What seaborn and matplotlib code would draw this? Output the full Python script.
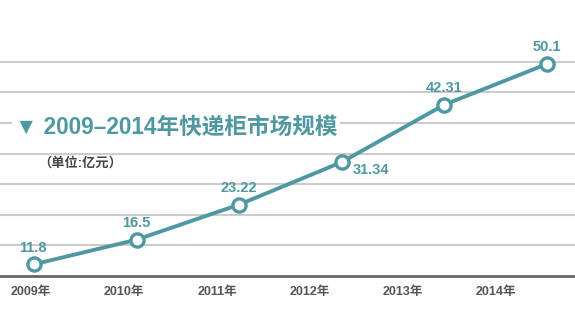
import numpy as np
import pandas as pd
import matplotlib
matplotlib.use("Agg")
import matplotlib.pyplot as plt
import seaborn as sns

years = ["2009年", "2010年", "2011年", "2012年", "2013年", "2014年"]
values = [11.8, 16.5, 23.22, 31.34, 42.31, 50.1]
value_labels = ["11.8", "16.5", "23.22", "31.34", "42.31", "50.1"]
title = "▼ 2009–2014年快递柜市场规模"
subtitle = "（单位:亿元）"

sns.set_theme(style="white")
plt.rcParams['font.family'] = ['Liberation Sans', 'Noto Sans CJK SC', 'DejaVu Sans']

teal = "#4f98a2"
grid_c = "#cccccc"
dark = "#555555"

df = pd.DataFrame({"pos": np.arange(len(years)), "value": values})

fig = plt.figure(figsize=(5.75, 3.28), dpi=100)
ax = fig.add_axes([0, 0.1585, 1, 0.8415])

ax.set_xlim(-0.331, 5.273)
ax.set_ylim(9.56, 62.33)

yt = 9.56 + 5.85 * np.arange(1, 8)
ax.set_yticks(yt)
ax.set_yticklabels([])
ax.tick_params(axis='y', length=0)
for v in yt:
    ax.axhline(v, color=grid_c, lw=1.5, zorder=0)

sns.lineplot(data=df, x="pos", y="value", ax=ax, color=teal, lw=2.8,
             marker="o", markersize=9.5, markerfacecolor="white",
             markeredgecolor=teal, markeredgewidth=2.4, zorder=5)

# value labels
offsets = [(-1, 12), (0, 12), (0, 12), (21, -6), (0, 12), (0, 12)]
for i, (v, lab) in enumerate(zip(values, value_labels)):
    dx, dy = offsets[i]
    ax.annotate(lab, (i, v), xytext=(dx, dy), textcoords="offset points",
                ha="center", va="center", fontsize=10.5, fontweight="bold",
                color=teal, zorder=6)

# x tick labels
ax.set_xticks(np.arange(len(years)) * 0.907 - 0.03)
ax.set_xticklabels(years, fontsize=9, fontweight="bold", color=dark)
ax.tick_params(axis='x', length=0, pad=7)
ax.set_xlabel("")
ax.set_ylabel("")

for s in ["top", "right", "left"]:
    ax.spines[s].set_visible(False)
ax.spines["bottom"].set_color("#666666")
ax.spines["bottom"].set_linewidth(2)

fig.text(15 / 575, 1 - 127 / 328, title, ha="left", va="center",
         fontsize=16.3, fontweight="bold", color=teal,
         bbox=dict(facecolor="white", edgecolor="none", pad=2), zorder=10)
fig.text(38 / 575, 1 - 163 / 328, subtitle, ha="left", va="center",
         fontsize=9.5, fontweight="bold", color="#444444")

fig.savefig("out.png", dpi=100, facecolor="white")
